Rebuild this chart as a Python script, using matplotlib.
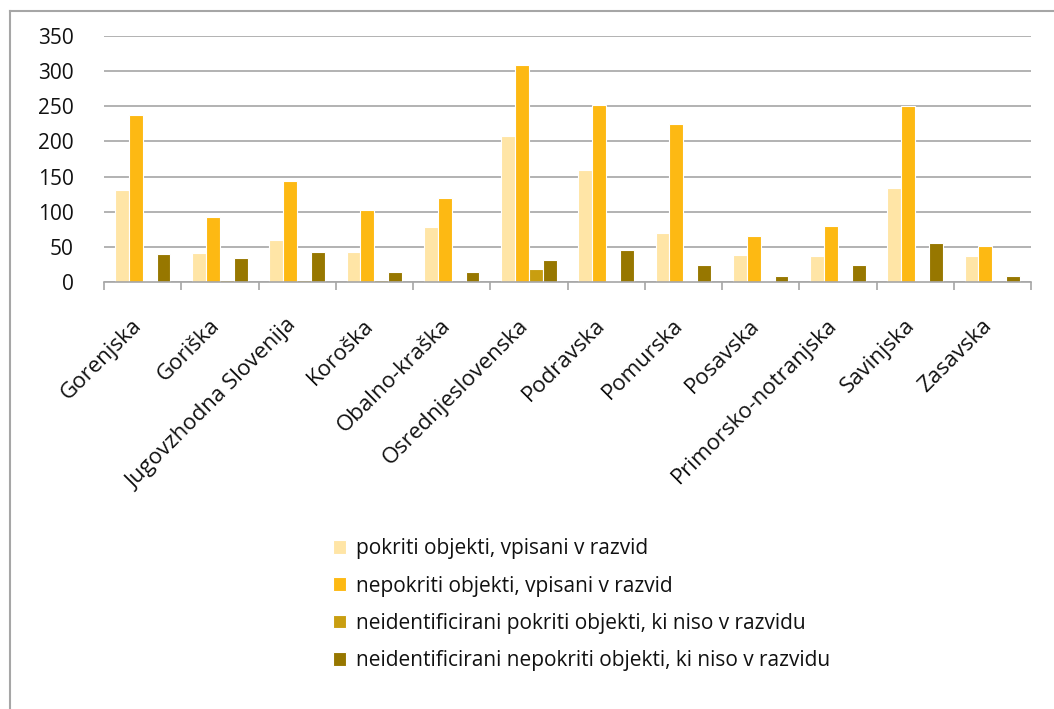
import matplotlib.pyplot as plt
import matplotlib.lines as mlines
import numpy as np

plt.rcParams['font.family'] = ['Open Sans', 'DejaVu Sans']

regions = ['Gorenjska', 'Goriška', 'Jugovzhodna Slovenija', 'Koroška', 'Obalno-kraška',
           'Osrednjeslovenska', 'Podravska', 'Pomurska', 'Posavska',
           'Primorsko-notranjska', 'Savinjska', 'Zasavska']

pokriti_vpisani = [131, 41, 60, 43, 78, 208, 160, 70, 38, 37, 134, 37]
nepokriti_vpisani = [237, 93, 143, 103, 120, 309, 252, 225, 65, 79, 250, 51]
neid_pokriti = [1, 3, 3, 3, 0, 18, 2, 2, 2, 2, 2, 0]
neid_nepokriti = [40, 34, 43, 14, 14, 32, 46, 24, 9, 24, 56, 9]

series = [
    ('pokriti objekti, vpisani v razvid', pokriti_vpisani, '#FFE5A6'),
    ('nepokriti objekti, vpisani v razvid', nepokriti_vpisani, '#FDB913'),
    ('neidentificirani pokriti objekti, ki niso v razvidu', neid_pokriti, '#C99E10'),
    ('neidentificirani nepokriti objekti, ki niso v razvidu', neid_nepokriti, '#977700'),
]

fig = plt.figure(figsize=(10.54, 7.09), dpi=100)
ax = fig.add_axes([104/1054, 1 - 282/709, (1031-104)/1054, (282-36)/709])

x = np.arange(len(regions))
w = 0.18
for i, (name, vals, col) in enumerate(series):
    ax.bar(x + (i - 1.5) * w, vals, w, color=col, edgecolor='white', linewidth=0.8,
           label=name, zorder=3)

ax.set_xlim(-0.5, len(regions) - 0.5)
ax.set_ylim(0, 350)
ax.set_yticks(range(0, 351, 50))
ax.yaxis.grid(True, color='#A6A6A6', linewidth=1.2, zorder=0)
ax.set_axisbelow(True)

for s in ['top', 'right', 'left']:
    ax.spines[s].set_visible(False)
ax.spines['bottom'].set_color('#A6A6A6')
ax.spines['bottom'].set_linewidth(1.2)
ax.spines['bottom'].set_zorder(4)

ax.tick_params(axis='y', length=0, pad=22, labelsize=15, labelcolor='#111111')
ax.set_xticks(np.arange(-0.5, len(regions)), minor=False)
ax.set_xticklabels([])
ax.tick_params(axis='x', which='major', length=6, width=1.2, color='#A6A6A6')
ax.set_xticks(x - 0.05, minor=True)
ax.set_xticklabels(regions, minor=True, rotation=45, ha='right', va='center',
                   rotation_mode='anchor', fontsize=16, color='#111111')
ax.tick_params(axis='x', which='minor', length=0, pad=29)

fig.legend(loc='upper left', bbox_to_anchor=(325/1054, 1 - 530/709), frameon=False,
           fontsize=15, handlelength=0.63, handleheight=0.63, handletextpad=0.45,
           labelspacing=0.78, borderaxespad=0, labelcolor='#111111')

# outer frame (left and top edges)
fig.add_artist(mlines.Line2D([10/1054, 10/1054], [0, 1 - 11/709], color='#A6A6A6', lw=1.5))
fig.add_artist(mlines.Line2D([10/1054, 1], [1 - 11/709, 1 - 11/709], color='#A6A6A6', lw=1.5))

fig.savefig('out.png', dpi=100)
